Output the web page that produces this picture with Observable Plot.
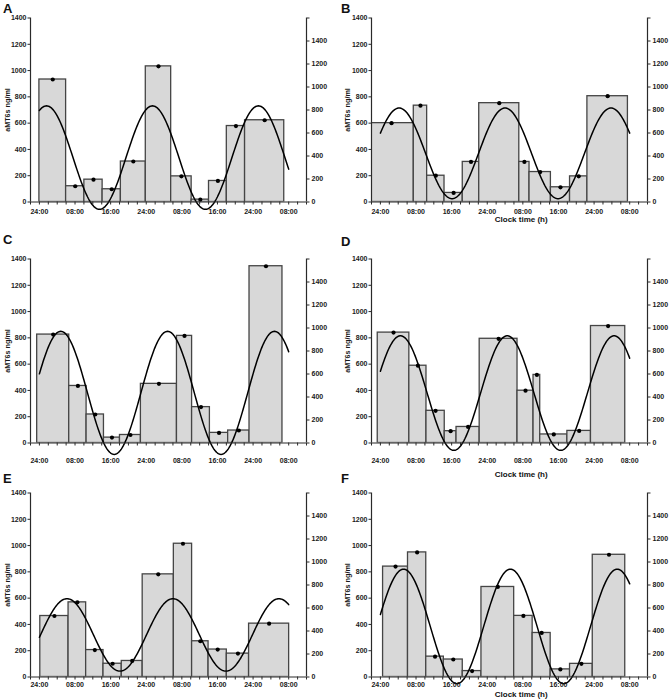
<!DOCTYPE html>
<html><head><meta charset="utf-8">
<script src="https://cdn.jsdelivr.net/npm/d3@7"></script>
<script src="https://cdn.jsdelivr.net/npm/@observablehq/plot@0.6"></script>
<style>
html,body{margin:0;padding:0;background:#fff;}
#fig{position:relative;width:669px;height:700px;overflow:hidden;font-family:"Liberation Sans",Arial,sans-serif;background:#fff;}
.panel{position:absolute;}
.letter{position:absolute;font-weight:bold;font-size:13px;line-height:1;color:#111;}
</style></head><body><div id="fig"></div>
<script>
// ---- data ----
const panels = ["A", "B", "C", "D", "E", "F"];
// collection-interval edges (hours from 24:00 of night 1)
const edgesA = [0, 6.0, 10.1, 14.2, 18.3, 23.9, 29.6, 34.2, 38.1, 42.1, 46.2, 55.0];
const edgesB = [-2.5, 7.5, 10.5, 14.4, 18.5, 22.2, 31.2, 33.5, 38.3, 42.6, 46.5, 55.6];
const edgesC = [-0.5, 6.7, 10.6, 14.5, 18.1, 22.8, 30.9, 34.3, 38.3, 42.4, 47.2, 54.6];
const edgesD = [-0.6, 6.5, 10.35, 14.45, 17.1, 22.3, 30.8, 34.4, 35.9, 42.0, 47.3, 55.0];
const edgesE = [0.2, 6.55, 10.5, 14.4, 18.5, 23.2, 30.2, 34.3, 38.0, 42.1, 47.1, 56.1];
const edgesF = [0.6, 6.2, 10.3, 14.25, 18.5, 22.7, 30.05, 34.2, 38.25, 42.6, 47.7, 55.0];
// aMT6s (ng/ml) per interval
const valuesA = [932, 120, 170, 97, 308, 1032, 195, 18, 160, 578, 622];
const valuesB = [600, 733, 200, 69, 305, 752, 305, 228, 112, 195, 805];
const valuesC = [825, 434, 217, 41, 61, 450, 815, 273, 77, 95, 1345];
const valuesD = [840, 588, 245, 90, 122, 793, 398, 518, 65, 92, 890];
const valuesE = [464, 568, 205, 101, 122, 781, 1014, 272, 209, 178, 406];
const valuesF = [840, 948, 155, 133, 45, 685, 465, 335, 58, 100, 930];
// cosinor fit parameters (right axis units)
const mesor = [386, 423, 436, 434, 366, 440];
const amplitude = [450, 394, 535, 498, 315, 498];
const acrophase = [1.6, 4.2, 4.8, 4.5, 6.2, 5.2];
const period = [23.8, 23.8, 24, 24, 23.8, 24];
const fitSpan = [0, 56];
// axes
const xTickHours = [0, 8, 16, 24, 32, 40, 48, 56];
const xTickLabels = ["24:00", "08:00", "16:00", "24:00", "08:00", "16:00", "24:00", "08:00"];
const xMinorHours = d3.range(-2, 60.001, 2);
const leftTicks = [0, 200, 400, 600, 800, 1000, 1200, 1400];
const rightTicks = [0, 200, 400, 600, 800, 1000, 1200, 1400, 1600];
const yLabel = "aMT6s ng/ml";
const xLabel = "Clock time (h)";

const edgesList = [edgesA, edgesB, edgesC, edgesD, edgesE, edgesF];
const valuesList = [valuesA, valuesB, valuesC, valuesD, valuesE, valuesF];

// ---- layout ----
const W = 335;
const colX = [0, 334];
const rowY = [0, 240.5, 475];
const rowH = [225, 235, 225];
const colML = [30, 37];
const colMR = [29, 22];
const rowTickPad = [4.5, 12.5, 2];
const rowClockDy = [17.7, 31, 17.8];
const letterPos = [[3, 2], [341, 2], [3, 232.5], [341, 235], [3, 471.5], [341, 471.5]];
const frameH = 184, mTop = 17.5;
const k = 1400 / 1600;
const axisColor = "#2a2a2a";
const font = "'Liberation Sans', Arial, sans-serif";

const fig = document.getElementById("fig");

panels.forEach((name, i) => {
  const col = i % 2, row = Math.floor(i / 2);
  const edges = edgesList[i], vals = valuesList[i];
  const bars = vals.map((v, j) => ({x1: edges[j], x2: edges[j + 1], v}));
  const pts = bars.map(b => ({t: (b.x1 + b.x2) / 2, v: b.v}));
  const curve = d3.range(fitSpan[0], fitSpan[1] + 0.001, 0.2).map(t => ({
    t, r: mesor[i] + amplitude[i] * Math.cos(2 * Math.PI * (t - acrophase[i]) / period[i])
  }));
  const marks = [
    Plot.rectY(bars, {x1: "x1", x2: "x2", y: "v", fill: "#d8d8d8", stroke: "#454545", strokeWidth: 1.3, clip: true}),
    Plot.line(curve, {x: "t", y: d => d.r * k, stroke: "#000", strokeWidth: 1.5, curve: "linear"}),
    Plot.dot(pts, {x: "t", y: "v", r: 2.1, fill: "#000", stroke: "none"}),
    Plot.ruleY([0], {stroke: axisColor, strokeWidth: 1.2}),
    Plot.ruleX([-2], {stroke: axisColor, strokeWidth: 1.2}),
    Plot.ruleX([60], {stroke: axisColor, strokeWidth: 1.2}),
    Plot.axisX(xMinorHours, {tickSize: 3, tickFormat: () => "", label: null, stroke: axisColor}),
    Plot.axisX(xTickHours, {tickSize: 0, tickPadding: 3 + rowTickPad[row], label: null,
      tickFormat: d => xTickLabels[xTickHours.indexOf(d)], fill: "#1a1a1a", fontSize: 7, fontWeight: "bold"}),
    Plot.axisY(leftTicks, {anchor: "left", tickSize: 2.5, tickPadding: 1.5, label: null,
      tickFormat: d => String(d),
      stroke: axisColor, fill: "#1a1a1a", fontSize: 7, fontWeight: "bold"}),
    Plot.axisY(rightTicks.map(r => r * k), {anchor: "right", tickSize: 2.5, tickPadding: 2.5, label: null,
      tickFormat: d => { const r = Math.round(d / k); return r === 1600 ? "" : String(r); },
      stroke: axisColor, fill: "#1a1a1a", fontSize: 7, fontWeight: "bold"}),
    Plot.text([yLabel], {text: d => d, frameAnchor: "left", rotate: -90, textAnchor: "middle", lineAnchor: "middle",
      dx: col === 0 ? -23 : -24, fontSize: 7.2, fontWeight: "bold", fill: "#1a1a1a"})
  ];
  if (col === 1) {
    marks.push(Plot.text([xLabel], {text: d => d, frameAnchor: "bottom", textAnchor: "middle", lineAnchor: "middle",
      dx: 11.7, dy: rowClockDy[row], fontSize: 8, fontWeight: "bold", fill: "#111"}));
  }
  const svg = Plot.plot({
    width: W, height: rowH[row],
    marginLeft: colML[col], marginRight: colMR[col],
    marginTop: mTop, marginBottom: rowH[row] - mTop - frameH,
    x: {domain: [-2, 60], label: null},
    y: {domain: [0, 1400], label: null},
    style: {fontFamily: font, fontSize: "7px", overflow: "visible", background: "transparent", color: "#1a1a1a"},
    marks
  });
  const wrap = document.createElement("div");
  wrap.className = "panel";
  wrap.style.left = colX[col] + "px";
  wrap.style.top = rowY[row] + "px";
  wrap.appendChild(svg);
  fig.appendChild(wrap);
  const lt = document.createElement("div");
  lt.className = "letter";
  lt.textContent = name;
  lt.style.left = letterPos[i][0] + "px";
  lt.style.top = letterPos[i][1] + "px";
  fig.appendChild(lt);
});
</script>
</body></html>
